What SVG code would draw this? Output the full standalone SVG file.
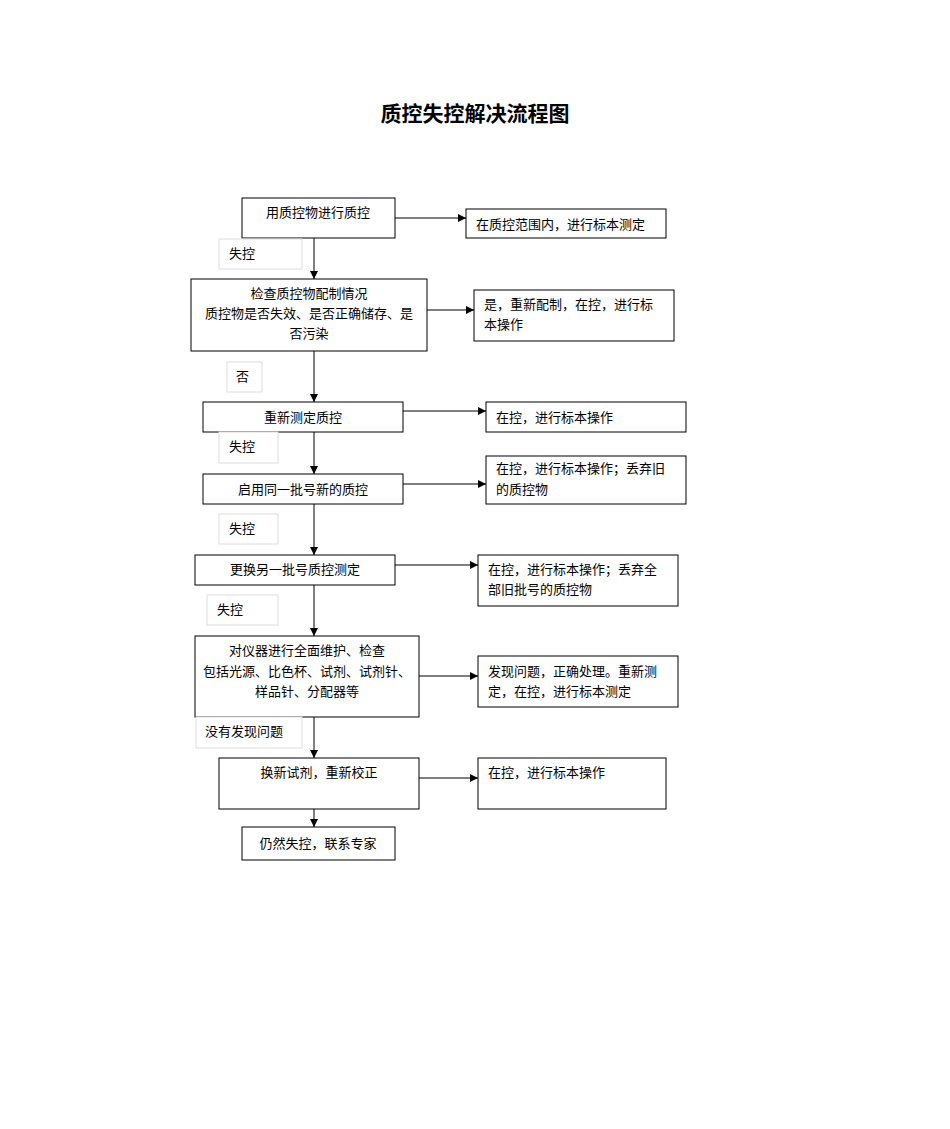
<svg xmlns="http://www.w3.org/2000/svg" width="950" height="1129" viewBox="0 0 950 1129">
<style>
text{font-family:"Noto Sans CJK SC","Liberation Sans",sans-serif;font-size:13px;fill:#000}
.b{fill:#fff;stroke:#000;stroke-width:1}
.l{fill:#fff;stroke:#ddd;stroke-width:1}
.c{stroke:#000;stroke-width:1;fill:none}
.m{text-anchor:middle}
</style>
<defs><marker id="a" viewBox="0 0 10 10" refX="10" refY="5" markerWidth="8" markerHeight="8" markerUnits="userSpaceOnUse" orient="auto"><path d="M0,0L10,5L0,10z" fill="#000"/></marker></defs>
<rect width="950" height="1129" fill="#fff"/>
<text x="475" y="121" class="m" style="font-size:21px;font-weight:bold">质控失控解决流程图</text>
<g id="connectors">
<path class="c" marker-end="url(#a)" d="M314,238V279"/>
<path class="c" marker-end="url(#a)" d="M314,351V402"/>
<path class="c" marker-end="url(#a)" d="M314,432V474"/>
<path class="c" marker-end="url(#a)" d="M314,504V555"/>
<path class="c" marker-end="url(#a)" d="M314,585V636"/>
<path class="c" marker-end="url(#a)" d="M314,717V758"/>
<path class="c" marker-end="url(#a)" d="M314,809V827"/>
<path class="c" marker-end="url(#a)" d="M395,218H466"/>
<path class="c" marker-end="url(#a)" d="M427,310H474"/>
<path class="c" marker-end="url(#a)" d="M403,411H486"/>
<path class="c" marker-end="url(#a)" d="M403,484H486"/>
<path class="c" marker-end="url(#a)" d="M395,565H478"/>
<path class="c" marker-end="url(#a)" d="M419,676H478"/>
<path class="c" marker-end="url(#a)" d="M419,778H478"/>
</g>
<g id="n1"><rect class="b" x="242" y="198" width="153" height="40"/><text x="318" y="217" class="m">用质控物进行质控</text></g>
<g id="r1"><rect class="b" x="466" y="209" width="200" height="29"/><text x="476" y="229">在质控范围内，进行标本测定</text></g>
<g id="l1"><rect class="l" x="219" y="239" width="83" height="30"/><text x="229" y="258">失控</text></g>
<g id="n2"><rect class="b" x="191" y="279" width="236" height="72"/><text class="m" x="309" y="298">检查质控物配制情况</text><text class="m" x="309" y="318">质控物是否失效、是否正确储存、是</text><text class="m" x="309" y="338">否污染</text></g>
<g id="r2"><rect class="b" x="474" y="290" width="200" height="51"/><text x="484" y="309">是，重新配制，在控，进行标</text><text x="484" y="329">本操作</text></g>
<g id="l2"><rect class="l" x="227" y="362" width="35" height="30"/><text x="236" y="381">否</text></g>
<g id="n3"><rect class="b" x="203" y="402" width="200" height="30"/><text x="303" y="422" class="m">重新测定质控</text></g>
<g id="r3"><rect class="b" x="486" y="402" width="200" height="30"/><text x="496" y="422">在控，进行标本操作</text></g>
<g id="l3"><rect class="l" x="219" y="432" width="59" height="31"/><text x="229" y="451">失控</text></g>
<g id="n4"><rect class="b" x="203" y="474" width="200" height="30"/><text x="303" y="494" class="m">启用同一批号新的质控</text></g>
<g id="r4"><rect class="b" x="486" y="456" width="200" height="48"/><text x="496" y="473">在控，进行标本操作；丢弃旧</text><text x="496" y="494">的质控物</text></g>
<g id="l4"><rect class="l" x="219" y="514" width="59" height="30"/><text x="229" y="533">失控</text></g>
<g id="n5"><rect class="b" x="195" y="555" width="200" height="30"/><text x="295" y="574" class="m">更换另一批号质控测定</text></g>
<g id="r5"><rect class="b" x="478" y="555" width="200" height="51"/><text x="488" y="574">在控，进行标本操作；丢弃全</text><text x="488" y="594">部旧批号的质控物</text></g>
<g id="l5"><rect class="l" x="207" y="595" width="71" height="30"/><text x="217" y="614">失控</text></g>
<g id="n6"><rect class="b" x="195" y="636" width="224" height="81"/><text class="m" x="307" y="655">对仪器进行全面维护、检查</text><text class="m" x="307" y="676">包括光源、比色杯、试剂、试剂针、</text><text class="m" x="307" y="696">样品针、分配器等</text></g>
<g id="r6"><rect class="b" x="478" y="656" width="200" height="51"/><text x="488" y="676">发现问题，正确处理。重新测</text><text x="488" y="696">定，在控，进行标本测定</text></g>
<g id="l6"><rect class="l" x="196" y="717" width="106" height="31"/><text x="205" y="736">没有发现问题</text></g>
<g id="n7"><rect class="b" x="219" y="758" width="200" height="51"/><text x="319" y="777" class="m">换新试剂，重新校正</text></g>
<g id="r7"><rect class="b" x="478" y="758" width="188" height="51"/><text x="488" y="777">在控，进行标本操作</text></g>
<g id="n8"><rect class="b" x="242" y="827" width="153" height="33"/><text x="318" y="848" class="m">仍然失控，联系专家</text></g>
</svg>
